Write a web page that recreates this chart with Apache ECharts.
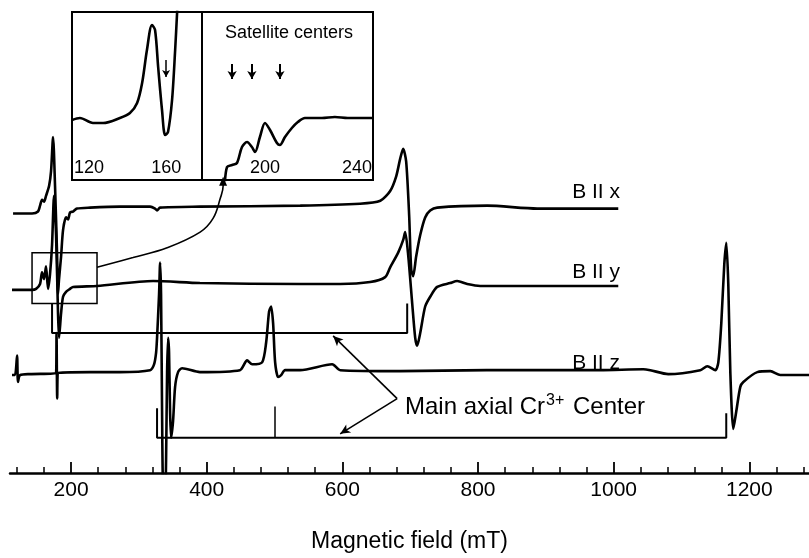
<!DOCTYPE html>
<html><head><meta charset="utf-8">
<script src="https://cdn.jsdelivr.net/npm/echarts@6/dist/echarts.min.js"></script>
<style>html,body{margin:0;padding:0;background:#fff}#c{width:809px;height:558px}</style>
</head><body><div id="c"></div>
<script>
// ---- main spectra: field (mT) and signal (arb. units, relative to own baseline)
const xField  = [114.5,142.5,151.3,154.3,157.2,160.2,163.1,167.6,170.5,173.5,176.4,179.4,180.8,182.3,185.3,188.2,192.6,195.6,198.5,202.9,208.8,228,272,316.5,323.9,326.8,331.3,390,538,626,656,670.5,679.4,685.3,689.7,694.1,698.5,701.5,704.4,708.8,714.8,722.1,729.5,739.8,813.6,887.3,1006.8];
const xSignal = [-6,-6,-4,2,8,6,12,22,37,72,22,-48,-88,-73,-50,-23,-10,-12,-5,-4,-1,0,1,1,-1,-3,0,1,2,4,7,17,32,50,60,47,-8,-63,-70,-50,-28,-10,-3,0,2,-1,-1];

const yField  = [113,142.5,148.4,154.3,157.2,160.2,163.1,166.1,169,172,174.9,177.9,180.8,182.3,185.3,188.2,192.6,198.5,202.9,238.3,320.9,390,538,596.8,641,663.1,670.5,682.3,689.7,692.6,697,703,707.4,710.3,714.8,722.1,729.5,739.8,759,769.3,784.1,803.2,1006.8];
const ySignal = [-4,-4,-3,2,14,7,20,-3,12,42,92,52,-28,-53,-28,-11,-6,-3,-1,0,5,3,2,2,4,9,19,34,47,55,32,-18,-53,-61,-48,-21,-11,-1,3,5,2,0,0];

const zField  = [113,117.4,120.4,121.8,124.8,139.5,177.9,178.6,179.6,181,228,272,316.5,322.4,325.4,326.8,329.8,331.3,332.7,334.2,335.7,338.6,340.1,341.6,343.1,344.5,346,347.5,350.4,353.4,357.8,363.7,390,449,459.6,467,481.7,487.6,492,495,497.9,500.9,505.3,509.7,515.6,537.8,585,596.8,685,813,980,1043.7,1054,1080.5,1127.7,1138,1149.9,1154.3,1158.7,1163.1,1166.1,1169,1172,1176.4,1180.8,1186.7,1191.2,1211.8,1231,1245.7,1288.5];
const zSignal = [-3,-3,17,-10,-3,-2,-1,40,-27,-1,0,0,2,8,20,35,80,112,80,-40,-120,-125,-90,0,35,20,-40,-67,-50,-15,0,4,0,2,12,8,10,30,62,67,50,10,-5,-3,2,2,8,2,1,2,2,3,2,-2,2,6,2,10,50,110,132,90,0,-58,-40,-15,-10,0,1,-3,-3];

const traceNames   = ['B II x','B II y','B II z'];
const traceOffsets = [271, 191, 103];

// ---- inset spectra (expanded low-field region)
const insetLeftField   = [111.2,115.3,122,127.3,136,141.2,144.9,147.5,150,152.6,154.2,155.8,157.8,159.4,160.9,163,164.6,165.6,166.5];
const insetLeftSignal  = [60,62,57,57,62,67,77,97,130,155,150,113,70,45,48,80,130,167,200];
const insetRightField  = [182.5,183.5,185.7,187.8,190,192.2,194.3,195.7,197.8,200,202.2,205.2,206.5,208.7,211.7,214.3,217.4,224.8,230.4,236,247];
const insetRightSignal = [-5,13,15,17,33,38,33,28,43,57,50,37,35,43,52,58,62,62,63,62,62];
const satelliteCenters = [185.7,194.3,206.5];
const insetArrowField  = [159.9];

// ---- stick diagrams (main axial Cr3+ centre positions)
const upperSticks = [172, 695.6];
const lowerSticks = [326.8, 500, 1166];

// ---- tick labels
const majorTicks = [200,400,600,800,1000,1200];
const minorTicks = [120,160,240,280,320,360,440,480,520,560,640,680,720,760,840,880,920,960,1040,1080,1120,1160,1240,1280];
const insetLeftTicks = [120,160];
const insetRightTicks = [200,240];

const FONT = 'Liberation Sans, Arial, sans-serif';
const pair = (f, s, off) => f.map((v, i) => [v, off + s[i]]);
const traceStyle = {color:'#000', width:2.6};

const chart = echarts.init(document.getElementById('c'), null, {renderer:'canvas'});
const upperLevel = 143, upperLeg = 173, lowerLevel = 36, lowerLeg = 66;
const plain = v => String(v);

const option = {
  animation:false,
  backgroundColor:'#fff',
  textStyle:{fontFamily:FONT},
  grid:[
    {left:10, right:0, top:0, bottom:75},
    {left:72, top:12, width:130, height:168, show:true, borderColor:'#000', borderWidth:2, backgroundColor:'#fff'},
    {left:202, top:12, width:171, height:168, show:true, borderColor:'#000', borderWidth:2, backgroundColor:'#fff'}
  ],
  xAxis:[
    {gridIndex:0, type:'value', min:110, max:1288, position:'bottom',
     axisLine:{lineStyle:{color:'#000', width:2.5}},
     axisTick:{inside:true, length:6, lineStyle:{color:'#000', width:1.5}, customValues:minorTicks},
     axisLabel:{show:false}, splitLine:{show:false},
     name:'Magnetic field (mT)', nameLocation:'middle', nameGap:57,
     nameTextStyle:{fontSize:23, color:'#000', fontFamily:FONT}},
    {gridIndex:0, type:'value', min:110, max:1288, position:'bottom',
     axisLine:{show:false},
     axisTick:{inside:true, length:11, lineStyle:{color:'#000', width:1.8}, customValues:majorTicks},
     axisLabel:{customValues:majorTicks, formatter:plain, fontSize:21, color:'#000', margin:7, fontFamily:FONT},
     splitLine:{show:false}},
    {gridIndex:1, type:'value', min:111.2, max:178.5, axisLine:{show:false}, axisTick:{show:false},
     axisLabel:{inside:true, customValues:insetLeftTicks, formatter:plain, fontSize:18, color:'#000', margin:3, fontFamily:FONT},
     splitLine:{show:false}},
    {gridIndex:2, type:'value', min:172.6, max:247, axisLine:{show:false}, axisTick:{show:false},
     axisLabel:{inside:true, customValues:insetRightTicks, formatter:plain, fontSize:18, color:'#000', margin:3, fontFamily:FONT},
     splitLine:{show:false}}
  ],
  yAxis:[
    {gridIndex:0, type:'value', min:0, max:483, show:false},
    {gridIndex:1, type:'value', min:0, max:168, show:false},
    {gridIndex:2, type:'value', min:0, max:168, show:false}
  ],
  series:[
    {name:traceNames[0], type:'line', xAxisIndex:0, yAxisIndex:0, symbol:'none', smooth:0.25, lineStyle:traceStyle,
     data:pair(xField, xSignal, traceOffsets[0])},
    {name:traceNames[1], type:'line', xAxisIndex:0, yAxisIndex:0, symbol:'none', smooth:0.25, lineStyle:traceStyle,
     data:pair(yField, ySignal, traceOffsets[1]),
     markArea:{silent:true, itemStyle:{color:'rgba(0,0,0,0)', borderColor:'#000', borderWidth:1.5},
       data:[[{coord:[142.5,225]},{coord:[238.3,173]}]]}},
    {name:traceNames[2], type:'line', xAxisIndex:0, yAxisIndex:0, symbol:'none', smooth:0.25, lineStyle:traceStyle,
     data:pair(zField, zSignal, traceOffsets[2])},
    {name:'upper', type:'line', xAxisIndex:0, yAxisIndex:0, symbol:'none', lineStyle:{color:'#000', width:2},
     data:[[upperSticks[0],upperLeg],[upperSticks[0],upperLevel],[upperSticks[1],upperLevel],[upperSticks[1],upperLeg]]},
    {name:'lower', type:'line', xAxisIndex:0, yAxisIndex:0, symbol:'none', lineStyle:{color:'#000', width:2},
     data:[[lowerSticks[0],lowerLeg],[lowerSticks[0],lowerLevel],[lowerSticks[2],lowerLevel],[lowerSticks[2],lowerLeg-5]],
     markLine:{silent:true, symbol:['none','none'], label:{show:false}, lineStyle:{color:'#000', width:1.5, type:'solid'},
       data:[[{coord:[lowerSticks[1],lowerLevel]},{coord:[lowerSticks[1],lowerLeg+2]}]]}},
    {name:'pointer', type:'line', xAxisIndex:0, yAxisIndex:0, symbol:'none', data:[],
     markLine:{silent:true, symbol:['none','arrow'], symbolSize:[7,10], label:{show:false},
       lineStyle:{color:'#000', width:1.6, type:'solid'},
       data:[[{coord:[680.8,76]},{coord:[586.4,140]}],[{coord:[680.8,76]},{coord:[596.8,40]}]]}},
    {name:'link', type:'line', xAxisIndex:0, yAxisIndex:0, smooth:0.4, symbol:'none', lineStyle:{color:'#000', width:1.6},
     data:[[238.3,210],[291.4,220],[341.6,230],[390.3,246],[409.4,260],[419.8,280],[424.2,293],
           {value:[424.2,298], symbol:'triangle', symbolSize:[8,9], itemStyle:{color:'#000'}}]},
    {name:'insetL', type:'line', xAxisIndex:2, yAxisIndex:1, symbol:'none', smooth:0.3, lineStyle:traceStyle,
     data:pair(insetLeftField, insetLeftSignal, 0),
     markLine:{silent:true, symbol:['none','arrow'], symbolSize:[6,7], label:{show:false},
       lineStyle:{color:'#000', width:1.5, type:'solid'},
       data:insetArrowField.map(f => [{coord:[f,120]},{coord:[f,103]}])}},
    {name:'insetR', type:'line', xAxisIndex:3, yAxisIndex:2, symbol:'none', smooth:0.3, lineStyle:traceStyle,
     data:pair(insetRightField, insetRightSignal, 0),
     markLine:{silent:true, symbol:['none','arrow'], symbolSize:[7,8], label:{show:false},
       lineStyle:{color:'#000', width:2, type:'solid'},
       data:satelliteCenters.map(f => [{coord:[f,116]},{coord:[f,101]}])}}
  ],
  graphic:[
    {type:'text', x:620, y:192, style:{text:'B II x', fill:'#000', font:'21px '+FONT, textAlign:'right', textVerticalAlign:'middle'}},
    {type:'text', x:620, y:272, style:{text:'B II y', fill:'#000', font:'21px '+FONT, textAlign:'right', textVerticalAlign:'middle'}},
    {type:'text', x:620, y:363, style:{text:'B II z', fill:'#000', font:'21px '+FONT, textAlign:'right', textVerticalAlign:'middle'}},
    {type:'text', x:289, y:33, style:{text:'Satellite centers', fill:'#000', font:'18px '+FONT, textAlign:'center', textVerticalAlign:'middle'}},
    {type:'text', x:405, y:407, style:{text:'Main axial Cr{sup|3+} Center', fill:'#000', font:'24px '+FONT,
      textVerticalAlign:'middle', rich:{sup:{fontSize:16, fontFamily:FONT, fill:'#000', padding:[0,2,12,1]}}}}
  ]
};
chart.setOption(option);
</script></body></html>
